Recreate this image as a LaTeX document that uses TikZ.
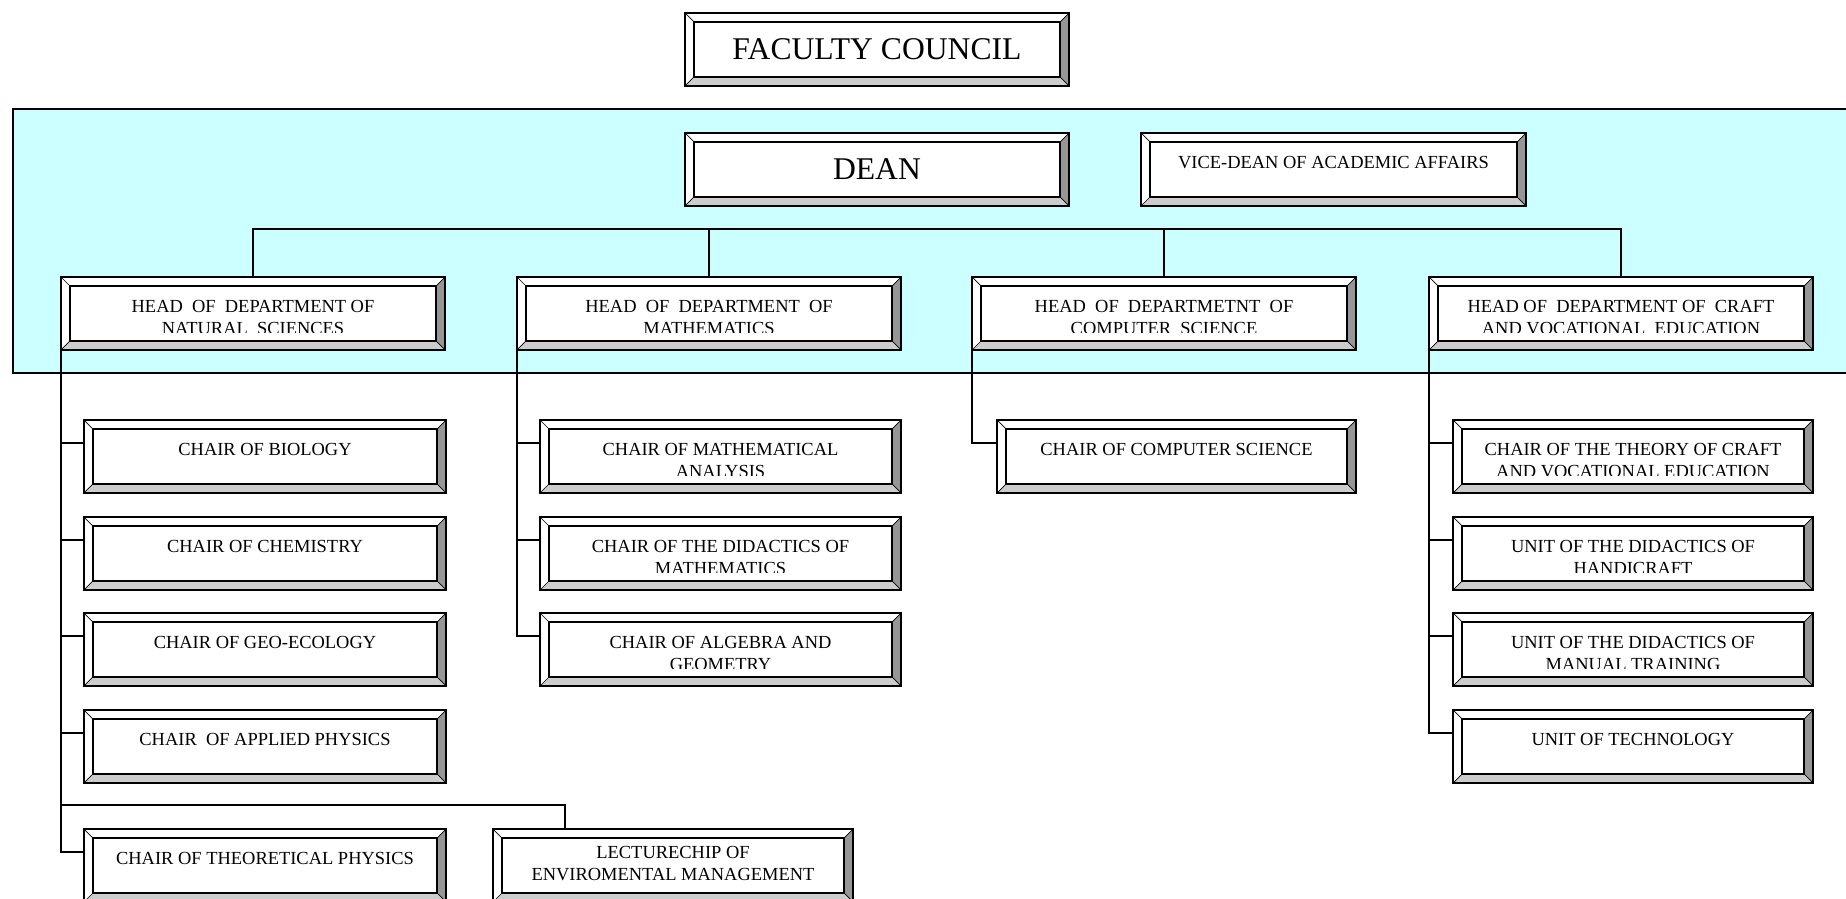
\documentclass[tikz,border=0pt]{standalone}
\usepackage{fontspec}
\setmainfont{Liberation Serif}
\usetikzlibrary{calc}
\definecolor{panelcyan}{HTML}{CCFFFF}
\definecolor{bevdark}{HTML}{969696}
\definecolor{bevlight}{HTML}{CCCCCC}
\newcommand*{\bv}{9}
\tikzset{
  orgbox/.style={rectangle, fill=white, anchor=north west, minimum height=1.46cm, inner sep=0pt, outer sep=0pt},
  frame/.style={black, line width=1.1pt},
  link/.style={black, line width=0.85pt},
  panel/.style={fill=panelcyan, draw=black, line width=0.9pt},
  smalltext/.style={font=\fontsize{10.5}{12.5}\selectfont, align=center, inner sep=0pt, anchor=north, yshift=0.27cm},
  bigtext/.style={font=\fontsize{18}{22}\selectfont, inner sep=0pt}
}
% #1 text style, #2 name, #3 x, #4 y (top left), #5 width, #6 text
\newcommand{\orgbox}[6][smalltext]{%
  \node[orgbox, minimum width=#5*0.02cm] (#2) at (#3,#4) {};
  % bevels
  \fill[white]    (#2.north west) -- (#2.north east) -- ($(#2.north east)+(-\bv,\bv)$) -- ($(#2.north west)+(\bv,\bv)$) -- cycle;
  \fill[white]    (#2.north west) -- (#2.south west) -- ($(#2.south west)+(\bv,-\bv)$) -- ($(#2.north west)+(\bv,\bv)$) -- cycle;
  \fill[bevdark]  (#2.north east) -- (#2.south east) -- ($(#2.south east)+(-\bv,-\bv)$) -- ($(#2.north east)+(-\bv,\bv)$) -- cycle;
  \fill[bevlight] (#2.south west) -- (#2.south east) -- ($(#2.south east)+(-\bv,-\bv)$) -- ($(#2.south west)+(\bv,-\bv)$) -- cycle;
  % corners and frames
  \draw[thin] (#2.north west) -- ++(\bv,\bv) (#2.north east) -- ++(-\bv,\bv)
              (#2.south west) -- ++(\bv,-\bv) (#2.south east) -- ++(-\bv,-\bv);
  \draw[frame] ($(#2.north west)+(\bv,\bv)$) rectangle ($(#2.south east)+(-\bv,-\bv)$);
  \draw[frame] (#2.north west) rectangle (#2.south east);
  % text, cut at the bottom
  \begin{scope}
    \clip ($(#2.north west)+(\bv,\bv)$) rectangle ($(#2.north east)+(-\bv,55)$);
    \node[#1] (#2-txt) at (#2.center) {#6};
  \end{scope}
}

\begin{document}
\begin{tikzpicture}[x=0.02cm, y=-0.02cm]

\useasboundingbox (0,0) rectangle (1846,899);

% Faculty panel
\draw[panel] (13,109) rectangle (1870,373);

% Top boxes
\orgbox[bigtext]{fc}{685}{13}{384}{FACULTY COUNCIL}
\orgbox[bigtext]{dean}{685}{133}{384}{DEAN}
\orgbox{vice}{1141}{133}{385}{VICE-DEAN OF ACADEMIC AFFAIRS}

% Heads of departments
\orgbox{nat}{61}{277}{384}{HEAD~ OF~ DEPARTMENT OF\\NATURAL~ SCIENCES}
\orgbox{math}{517}{277}{384}{HEAD~ OF~ DEPARTMENT~ OF\\MATHEMATICS}
\orgbox{cs}{972}{277}{384}{HEAD~ OF~ DEPARTMETNT~ OF\\COMPUTER~ SCIENCE}
\orgbox{craft}{1429}{277}{384}{HEAD OF~ DEPARTMENT OF~ CRAFT\\AND VOCATIONAL~ EDUCATION}

% Natural sciences
\orgbox{bio}{84}{420}{362}{CHAIR OF BIOLOGY}
\orgbox{chem}{84}{517}{362}{CHAIR OF CHEMISTRY}
\orgbox{geo}{84}{613}{362}{CHAIR OF GEO-ECOLOGY}
\orgbox{appl}{84}{710}{362}{CHAIR~ OF APPLIED PHYSICS}
\orgbox{theo}{84}{829}{362}{CHAIR OF THEORETICAL PHYSICS}
\orgbox[smalltext, yshift=0.12cm]{lect}{493}{829}{360}{LECTURECHIP OF\\ENVIROMENTAL MANAGEMENT}

% Mathematics
\orgbox{anal}{540}{420}{361}{CHAIR OF MATHEMATICAL\\ANALYSIS}
\orgbox{didm}{540}{517}{361}{CHAIR OF THE DIDACTICS OF\\MATHEMATICS}
\orgbox{alg}{540}{613}{361}{CHAIR OF ALGEBRA AND\\GEOMETRY}

% Computer science
\orgbox{csch}{997}{420}{359}{CHAIR OF COMPUTER SCIENCE}

% Craft and vocational education
\orgbox{theory}{1453}{420}{360}{CHAIR OF THE THEORY OF CRAFT\\AND VOCATIONAL EDUCATION}
\orgbox{hand}{1453}{517}{360}{UNIT OF THE DIDACTICS OF\\HANDICRAFT}
\orgbox{man}{1453}{613}{360}{UNIT OF THE DIDACTICS OF\\MANUAL TRAINING}
\orgbox{tech}{1453}{710}{360}{UNIT OF TECHNOLOGY}

% Lines from the dean level to the heads
\draw[link] (nat.north) -- ++(0,-48) -| (craft.north);
\draw[link] (math.north) -- ++(0,-48);
\draw[link] (cs.north) -- ++(0,-48);

% Lines from the heads to the chairs
\foreach \c in {bio,chem,geo,appl,theo}
  \draw[link] (nat.south west) |- ($(\c.north west)!0.315!(\c.south west)$);
\draw[link] ($(lect.north west)!0.2!(lect.north east)$) -- ++(0,-24) -| (nat.south west);
\foreach \c in {anal,didm,alg}
  \draw[link] (math.south west) |- ($(\c.north west)!0.315!(\c.south west)$);
\draw[link] (cs.south west) |- ($(csch.north west)!0.315!(csch.south west)$);
\foreach \c in {theory,hand,man,tech}
  \draw[link] (craft.south west) |- ($(\c.north west)!0.315!(\c.south west)$);

\end{tikzpicture}
\end{document}
